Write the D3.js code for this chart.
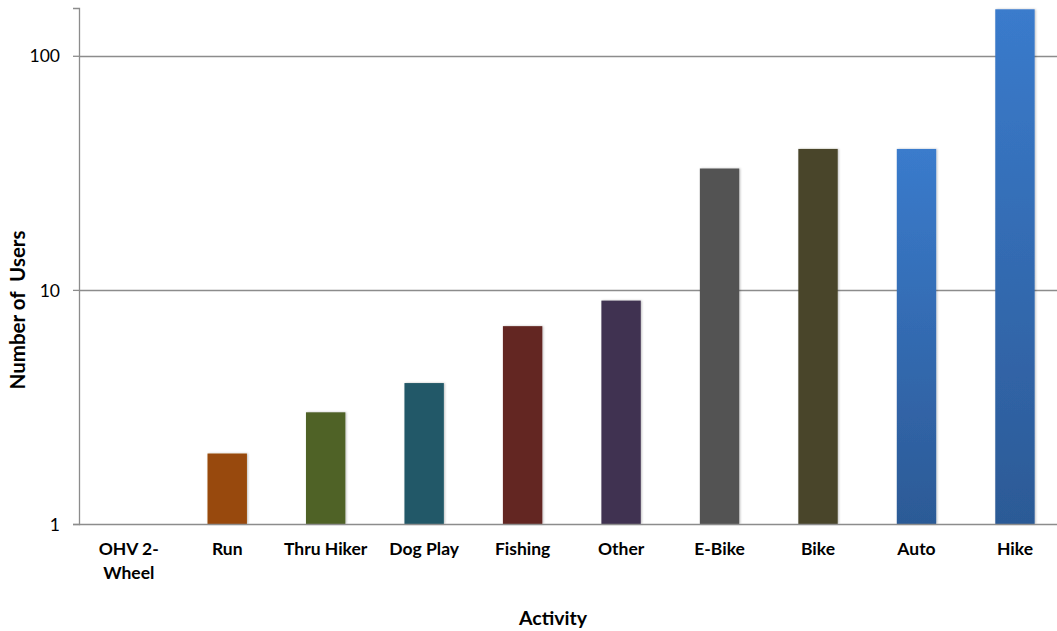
<!DOCTYPE html>
<html>
<head>
<meta charset="utf-8">
<script src="https://cdn.jsdelivr.net/npm/d3@7"></script>
<style>
  html, body { margin: 0; padding: 0; background: #fff; }
  svg { display: block; }
  text { font-family: Lato, "Open Sans", sans-serif; fill: #000; }
</style>
</head>
<body>
<svg id="chart" width="1057" height="631"></svg>
<script>
const categories = ["OHV 2-\nWheel", "Run", "Thru Hiker", "Dog Play", "Fishing", "Other", "E-Bike", "Bike", "Auto", "Hike"];
const values = [1, 2, 3, 4, 7, 9, 33, 40, 40, 158];
const colors = ["#984807", "#984807", "#4F6228", "#215968", "#632523", "#3F3151", "#535353", "#494429", "url(#blueGrad)", "url(#blueGrad)"];
const yTicks = [1, 10, 100];
const yMax = 160;

const svg = d3.select("#chart");
const W = 1057, H = 631;
const mLeft = 79, mTop = 8, mBottom = 524;

const defs = svg.append("defs");
const grad = defs.append("linearGradient").attr("id", "blueGrad")
  .attr("x1", 0).attr("y1", 0).attr("x2", 0).attr("y2", 1);
grad.append("stop").attr("offset", "0%").attr("stop-color", "#3A7BCC");
grad.append("stop").attr("offset", "100%").attr("stop-color", "#2C5A96");
const shadow = defs.append("filter").attr("id", "shadow").attr("x", "-20%").attr("y", "-5%").attr("width", "140%").attr("height", "110%");
shadow.append("feDropShadow").attr("dx", 1).attr("dy", 0).attr("stdDeviation", 1).attr("flood-color", "#000").attr("flood-opacity", 0.25);

const x = d3.scaleBand().domain(categories).range([mLeft + 0.5, 1064.2]).paddingInner(0.6).paddingOuter(0.3);
const y = d3.scaleLog().domain([1, yMax]).range([mBottom, mTop]);

// gridlines
svg.append("g").selectAll("line").data(yTicks.filter(t => t > 1)).join("line")
  .attr("x1", mLeft).attr("x2", W)
  .attr("y1", d => Math.round(y(d)) + 0.5).attr("y2", d => Math.round(y(d)) + 0.5)
  .attr("stroke", "#8c8c8c").attr("stroke-width", 1.3);

// bars
svg.append("g").selectAll("rect").data(categories).join("rect")
  .attr("x", d => x(d))
  .attr("width", x.bandwidth())
  .attr("y", (d, i) => y(values[i]))
  .attr("height", (d, i) => mBottom - y(values[i]))
  .attr("fill", (d, i) => colors[i])
  .attr("filter", "url(#shadow)");

// y axis
const yAxis = d3.axisLeft(y).tickValues(yTicks).tickFormat(d3.format("d")).tickSize(6).tickPadding(13);
const gy = svg.append("g").attr("transform", `translate(${mLeft},0)`).call(yAxis);
gy.select(".domain").attr("stroke", "#8c8c8c").attr("stroke-width", 1.3);
gy.selectAll(".tick line").attr("stroke", "#8c8c8c").attr("stroke-width", 1.3);
gy.selectAll(".tick text").attr("font-size", 17.5).attr("font-family", "Lato, sans-serif").attr("fill", "#000").attr("dy", "0.35em");

// x axis
const xAxis = d3.axisBottom(x).tickSize(0).tickPadding(0).tickFormat("");
const gx = svg.append("g").attr("transform", `translate(0,${mBottom})`).call(xAxis);
gx.select(".domain").attr("stroke", "#8c8c8c").attr("stroke-width", 1.3).attr("d", `M${mLeft},0.5H${W}`);
gx.selectAll(".tick").each(function(d) {
  const t = d3.select(this).append("text")
    .attr("text-anchor", "middle").attr("font-size", 17.5).attr("font-weight", "bold")
    .attr("fill", "#000");
  d.split("\n").forEach((line, i) => {
    t.append("tspan").attr("x", 0).attr("y", 31 + i * 24).text(line);
  });
});

// axis titles
svg.append("text").attr("x", 553).attr("y", 625).attr("text-anchor", "middle")
  .attr("font-size", 19.5).attr("font-weight", "bold").text("Activity");
svg.append("text").attr("transform", "translate(25,310) rotate(-90)").attr("text-anchor", "middle")
  .attr("font-size", 20.5).attr("font-weight", "bold").attr("xml:space", "preserve").text("Number of  Users");
</script>
</body>
</html>
